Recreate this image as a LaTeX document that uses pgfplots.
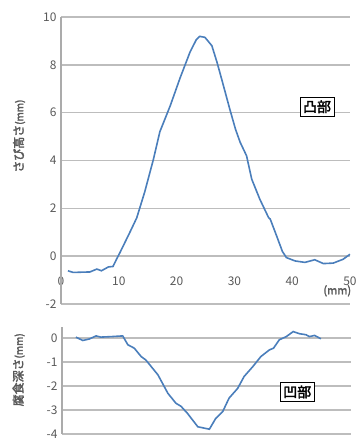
\documentclass[border=0pt]{standalone}
\usepackage{fontspec}
\setmainfont{Noto Sans CJK JP}[AutoFakeBold=2.5]
\usepackage{pgfplots}
\pgfplotsset{compat=1.18}
\definecolor{lineblue}{HTML}{4A7EBB}
\definecolor{gridgray}{HTML}{BDBDBD}
\definecolor{axisgray}{HTML}{ABABAB}
\definecolor{ticktext}{HTML}{595959}
\begin{document}
\begin{tikzpicture}
\useasboundingbox (0,0) rectangle (360bp,-441bp);
\pgfplotsset{
  common/.style={
    scale only axis,
    width=289bp,
    xmin=0, xmax=50,
    clip=false,
    axis line style={draw=none},
    tick style={draw=none},
    tick label style={font=\fontsize{12}{14}\selectfont, text=ticktext},
    yticklabel style={xshift=-1bp},
    /pgf/number format/assume math mode=true,
  },
  gridline/.style={draw=gridgray, line width=1.4bp, forget plot},
  axline/.style={draw=axisgray, line width=1.3bp, forget plot},
}
% top chart
\begin{axis}[common,
  at={(61bp,-304bp)}, anchor=south west,
  height=287bp,
  ymin=-2, ymax=10,
  ytick={-2,0,...,10},
  xtick={0,10,...,50},
  xticklabel style={yshift=31bp},
  ylabel={\fontsize{12}{14}\selectfont\textbf{さび高さ}{\fontsize{10}{12}\selectfont\textbf{(mm)}}},
  ylabel style={at={(axis description cs:-0.145,0.585)}, anchor=center, text=ticktext},
]
\addplot[gridline] coordinates {(0,-2) (50,-2)};
\addplot[gridline] coordinates {(0,0) (50,0)};
\addplot[gridline] coordinates {(0,2) (50,2)};
\addplot[gridline] coordinates {(0,4) (50,4)};
\addplot[gridline] coordinates {(0,6) (50,6)};
\addplot[gridline] coordinates {(0,8) (50,8)};
\addplot[gridline] coordinates {(0,10) (50,10)};
\addplot[axline] coordinates {(0,-2) (0,10)};
\addplot[lineblue, line width=1.6bp] coordinates {
(1.2,-0.61) (2.1,-0.68) (3.5,-0.67) (5.0,-0.66) (6.2,-0.54) (7.0,-0.61)
(8.2,-0.45) (9.0,-0.43) (9.6,-0.13) (10.2,0.15) (11.9,0.99) (13.1,1.6)
(14.5,2.7) (16.0,4.06) (17.1,5.2) (18.9,6.29) (20.6,7.45) (22.3,8.52)
(23.4,9.05) (24.0,9.19) (24.9,9.15) (26.1,8.8) (27.0,8.1) (27.8,7.4) (29.2,6.15)
(30.2,5.3) (31.0,4.76) (32.1,4.2) (33.0,3.22) (34.4,2.38) (35.9,1.62)
(36.2,1.55) (37.3,0.85) (38.3,0.2) (39.0,-0.06) (40.5,-0.2) (42.2,-0.26)
(43.9,-0.15) (45.4,-0.31) (47.1,-0.29) (48.8,-0.13) (50,0.08)
};
\node[font=\fontsize{11}{13}\selectfont\bfseries, text=ticktext] at (axis cs:47.8,-1.45) {(mm)};
\node[draw=black, line width=0.8bp, fill=white, inner sep=3bp,
  font=\fontsize{14}{16}\selectfont\bfseries] at (axis cs:44.3,6.25) {凸部};
\end{axis}
% bottom chart
\begin{axis}[common,
  at={(62bp,-434bp)}, anchor=south west,
  height=107bp,
  ymin=-4, ymax=0.45,
  ytick={-4,-3,...,0},
  xtick=\empty,
  ylabel={\fontsize{12}{14}\selectfont\textbf{腐食深さ}{\fontsize{10}{12}\selectfont\textbf{(mm)}}},
  ylabel style={at={(axis description cs:-0.15,0.6)}, anchor=center, text=ticktext},
]
\addplot[gridline] coordinates {(0,-4) (50,-4)};
\addplot[gridline] coordinates {(0,-3) (50,-3)};
\addplot[gridline] coordinates {(0,-2) (50,-2)};
\addplot[gridline] coordinates {(0,-1) (50,-1)};
\addplot[gridline] coordinates {(0,0) (50,0)};
\addplot[axline] coordinates {(0,-4) (0,0.45)};
\addplot[lineblue, line width=1.6bp] coordinates {
(2.4,0.03) (3.6,-0.11) (4.7,-0.05) (5.9,0.08) (6.7,0.03) (8.5,0.05)
(10.5,0.08) (11.4,-0.29) (12.5,-0.43) (13.7,-0.78) (14.5,-0.92)
(16.6,-1.54) (18.3,-2.3) (19.7,-2.72) (20.6,-2.85) (21.7,-3.14)
(23.5,-3.7) (25.5,-3.8) (26.6,-3.35) (27.8,-3.07) (28.9,-2.51)
(30.4,-2.1) (31.5,-1.61) (33.0,-1.2) (34.4,-0.78) (35.9,-0.5)
(36.6,-0.43) (37.6,-0.08) (38.8,0.05) (40.0,0.26) (41.1,0.17)
(42.2,0.13) (42.8,0.05) (43.7,0.1) (44.8,-0.04)
};
\node[draw=black, line width=0.8bp, fill=white, inner sep=3bp,
  font=\fontsize{14}{16}\selectfont\bfseries] at (axis cs:40.7,-2.25) {凹部};
\end{axis}
\end{tikzpicture}
\end{document}
